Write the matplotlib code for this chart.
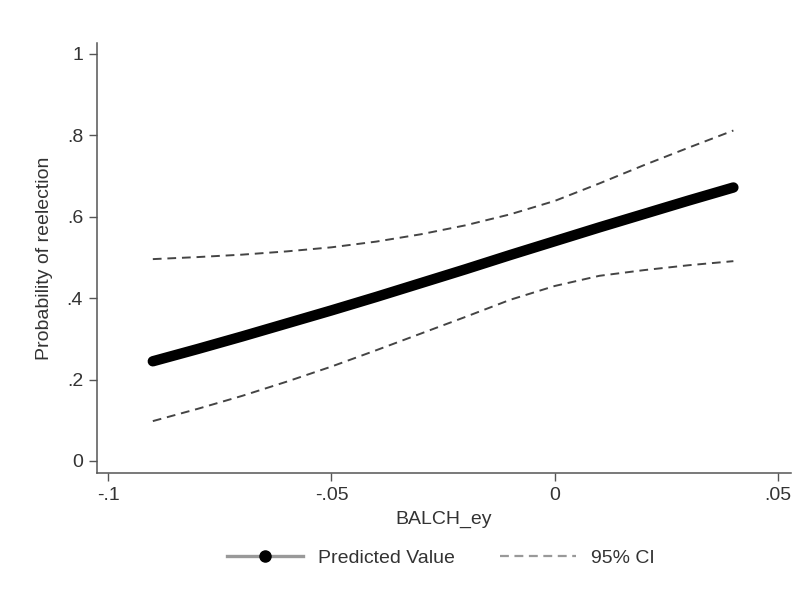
import matplotlib.pyplot as plt
from matplotlib.lines import Line2D

# Predicted probability of reelection with 95% confidence bounds
balch_ey = [-0.09, -0.08, -0.07, -0.06, -0.05, -0.04, -0.03,
            -0.02, -0.01, 0.0, 0.01, 0.02, 0.03, 0.04]
predicted = [0.245, 0.275, 0.306, 0.338, 0.370, 0.403, 0.437,
             0.471, 0.506, 0.540, 0.574, 0.607, 0.640, 0.672]
ci_upper = [0.496, 0.501, 0.507, 0.515, 0.525, 0.539, 0.557,
            0.579, 0.606, 0.639, 0.682, 0.727, 0.770, 0.812]
ci_lower = [0.098, 0.128, 0.160, 0.195, 0.232, 0.272, 0.313,
            0.354, 0.396, 0.430, 0.455, 0.469, 0.481, 0.491]

x_ticks = [-0.1, -0.05, 0.0, 0.05]
x_ticklabels = ["-.1", "-.05", "0", ".05"]
y_ticks = [0, 0.2, 0.4, 0.6, 0.8, 1.0]
y_ticklabels = ["0", ".2", ".4", ".6", ".8", "1"]

plt.rcParams["font.family"] = ["Liberation Sans", "DejaVu Sans"]
FS = 14
TXT = "#333333"
AXC = "#555555"

fig = plt.figure(figsize=(7.98, 5.96), dpi=100)
ax = fig.add_axes([97 / 798, 123 / 596, 694 / 798, 430 / 596])

ax.plot(balch_ey, predicted, color="black", lw=7.5, solid_capstyle="round")
ax.plot(balch_ey, ci_upper, color="#444444", lw=1.4, dashes=(4.5, 3))
ax.plot(balch_ey, ci_lower, color="#444444", lw=1.4, dashes=(4.5, 3))

ax.set_xlim(-0.1025, 0.0529)
ax.set_ylim(-0.0295, 1.027)

ax.set_xticks(x_ticks)
ax.set_xticklabels(x_ticklabels)
ax.set_yticks(y_ticks)
ax.set_yticklabels(y_ticklabels)

for side in ("top", "right"):
    ax.spines[side].set_visible(False)
for side in ("left", "bottom"):
    ax.spines[side].set_color(AXC)
    ax.spines[side].set_linewidth(1.1)

ax.tick_params(axis="both", direction="out", length=6, width=1.0,
               color=AXC, labelsize=FS, labelcolor=TXT, pad=4)

ax.set_xlabel("BALCH_ey", fontsize=FS, color=TXT, labelpad=5)
ax.set_ylabel("Probability of reelection", fontsize=FS, color=TXT, labelpad=10)

handles = [
    Line2D([], [], color="#999999", lw=2.4, marker="o", markersize=8,
           markerfacecolor="black", markeredgecolor="black"),
    Line2D([], [], color="#999999", lw=1.6, dashes=(4, 2.5)),
]
fig.legend(handles, ["Predicted Value", "95% CI"], loc="center",
           bbox_to_anchor=(441 / 798, 1 - 558 / 596), ncol=2, frameon=False,
           fontsize=FS, labelcolor=TXT, handlelength=3.9, handletextpad=0.8,
           columnspacing=2.3, numpoints=1)

fig.savefig("out.png", dpi=100)
